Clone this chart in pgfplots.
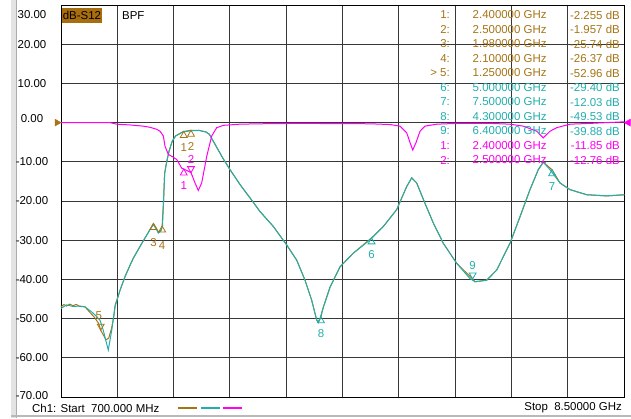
\documentclass[border=0pt]{standalone}
\usepackage{fontspec}
\setmainfont{Liberation Sans}
\usepackage{pgfplots}
\pgfplotsset{compat=1.18}
\definecolor{trbrown}{RGB}{166,116,20}
\definecolor{trteal}{RGB}{34,174,172}
\definecolor{trmag}{RGB}{255,0,240}
\definecolor{gridc}{RGB}{55,55,55}
\definecolor{tagbg}{RGB}{168,110,14}
\newcommand{\fs}{\fontsize{11.5}{13}\selectfont}
% one row of the marker table: y, colour, index, frequency, value
\newcommand{\mrow}[5]{%
  \node[anchor=east, inner sep=0pt, text=#2] at (450,#1) {#3};
  \node[anchor=west, inner sep=0pt, text=#2] at (472.5,#1) {#4};
  \node[anchor=east, inner sep=0pt, text=#2] at (620,#1) {#5};}

\begin{document}
\fs
\begin{tikzpicture}[x=1bp, y=1bp]
\useasboundingbox (0,0) rectangle (631,418);
% window edge
\fill[gray!22] (11,0) rectangle (17,418);
\draw[gray!65, line width=1bp] (16.5,0) -- (16.5,418);
\draw[gray!55, line width=1.5bp] (11,2) -- (631,2);

\begin{axis}[
  at={(61bp,21bp)}, anchor=south west,
  width=563.3bp, height=392bp, scale only axis,
  xmin=0.7, xmax=8.5, ymin=-70, ymax=30,
  xtick={1.48,2.26,3.04,3.82,4.6,5.38,6.16,6.94,7.72},
  xticklabels={},
  ytick={-70,-60,-50,-40,-30,-20,-10,0,10,20,30},
  yticklabels={{\raisebox{4bp}{-70.00}},-60.00,-50.00,-40.00,-30.00,-20.00,-10.00,
    {\raisebox{8bp}{0.00}},10.00,20.00,{\raisebox{-13bp}[0pt][0pt]{30.00}}},
  yticklabel style={anchor=center, xshift=-29bp, inner sep=0pt, font=\fs},
  major tick length=0pt,
  grid=major,
  grid style={gridc, line width=1bp},
  axis line style={black, line width=1bp},
  clip=false,
  legend style={at={(0.206,-0.028)}, anchor=west, draw=none, fill=none,
    legend columns=-1, inner sep=0pt, column sep=0pt,
    nodes={inner sep=0pt}},
  legend image code/.code={\draw[#1, line width=2.2bp] (0,0) -- (19bp,0);},
]

% S12 trace (brown)
\addplot[trbrown, line width=1bp] coordinates {
(0.700,-47.0) (0.740,-46.4) (0.779,-46.8) (0.820,-46.3) (0.866,-46.7) (0.910,-46.4)
(0.963,-46.9) (1.032,-47.0) (1.100,-48.4) (1.160,-49.6) (1.220,-51.2) (1.250,-52.96)
(1.290,-54.3) (1.323,-55.4) (1.360,-55.0) (1.400,-52.5) (1.430,-49.6) (1.450,-46.5)
(1.517,-42.8) (1.586,-39.3) (1.650,-36.6) (1.701,-34.6) (1.794,-31.6) (1.887,-28.7)
(1.980,-25.74) (2.015,-26.8) (2.047,-27.9) (2.085,-27.4) (2.100,-26.37) (2.120,-20.0)
(2.135,-13.0) (2.160,-10.3) (2.196,-7.3) (2.241,-4.7) (2.287,-3.4) (2.400,-2.255)
(2.500,-1.957) (2.615,-2.0) (2.708,-2.4) (2.755,-3.0) (2.847,-6.0) (2.939,-9.0)
(3.040,-12.0) (3.179,-15.8) (3.317,-19.2) (3.456,-22.7) (3.640,-26.5) (3.825,-31.2)
(3.964,-35.1) (4.079,-40.2) (4.171,-45.3) (4.241,-50.4) (4.263,-51.0) (4.300,-49.53)
(4.332,-47.1) (4.425,-42.0) (4.563,-36.8) (4.748,-33.3) (5.000,-29.4) (5.163,-26.5)
(5.348,-22.2) (5.487,-16.3) (5.556,-14.1) (5.625,-15.4) (5.740,-20.6) (5.855,-25.6)
(5.994,-30.8) (6.179,-35.9) (6.400,-39.88) (6.433,-40.6) (6.595,-40.2) (6.733,-37.6)
(6.917,-30.8) (7.056,-24.0) (7.194,-17.1) (7.309,-12.0) (7.378,-10.1) (7.500,-12.03)
(7.610,-15.4) (7.748,-17.1) (7.979,-18.4) (8.256,-18.7) (8.500,-18.4)
};
\addlegendentry{}
% teal trace
\addplot[trteal, line width=1bp] coordinates {
(0.700,-47.4) (0.779,-46.5) (0.866,-46.9) (0.963,-46.8) (1.032,-47.0) (1.125,-48.3)
(1.185,-49.3) (1.240,-50.4) (1.286,-53.0) (1.323,-55.8) (1.355,-58.0) (1.402,-53.0)
(1.448,-47.0) (1.517,-42.8) (1.586,-39.3) (1.701,-34.6) (1.794,-31.6) (1.887,-28.7)
(1.978,-26.0) (2.015,-27.0) (2.047,-28.2) (2.085,-27.6) (2.105,-26.5) (2.120,-20.0)
(2.135,-13.0) (2.160,-10.3) (2.196,-7.3) (2.241,-4.7) (2.287,-3.4) (2.380,-2.4)
(2.490,-2.1) (2.615,-2.0) (2.708,-2.4) (2.755,-3.0) (2.847,-6.0) (2.939,-9.0)
(3.040,-12.0) (3.179,-15.8) (3.317,-19.2) (3.456,-22.7) (3.640,-26.5) (3.825,-31.2)
(3.964,-35.1) (4.079,-40.2) (4.171,-45.3) (4.241,-50.4) (4.263,-51.0) (4.286,-50.0)
(4.332,-47.1) (4.425,-42.0) (4.563,-36.8) (4.748,-33.3) (4.979,-29.9) (5.163,-26.5)
(5.348,-22.2) (5.487,-16.3) (5.556,-14.1) (5.625,-15.4) (5.740,-20.6) (5.855,-25.6)
(5.994,-30.8) (6.179,-35.9) (6.363,-39.8) (6.433,-40.6) (6.595,-40.2) (6.733,-37.6)
(6.917,-30.8) (7.056,-24.0) (7.194,-17.1) (7.309,-12.0) (7.378,-10.1) (7.471,-12.0)
(7.610,-15.4) (7.748,-17.1) (7.979,-18.4) (8.256,-18.7) (8.500,-18.4)
};
\addlegendentry{}
% magenta trace
\addplot[trmag, line width=1bp] coordinates {
(0.700,0.0) (1.379,0.0) (1.471,-0.4) (1.655,-0.6) (1.840,-0.9) (1.932,-1.2)
(2.025,-1.7) (2.071,-2.2) (2.117,-3.4) (2.140,-6.0) (2.186,-8.1) (2.233,-8.6)
(2.302,-9.4) (2.371,-11.6) (2.400,-11.85) (2.500,-12.76) (2.556,-15.4) (2.601,-17.3)
(2.648,-15.4) (2.718,-8.6) (2.787,-3.4) (2.856,-1.3) (2.947,-0.7) (3.179,-0.4)
(3.456,-0.3) (4.009,-0.2) (4.979,-0.3) (5.256,-0.5) (5.394,-0.9) (5.487,-2.6)
(5.533,-5.1) (5.570,-7.0) (5.616,-5.1) (5.671,-2.2) (5.740,-0.9) (5.902,-0.4)
(6.179,-0.2) (6.640,-0.2) (6.917,-0.4) (7.101,-0.9) (7.287,-2.2) (7.378,-3.9)
(7.471,-2.2) (7.564,-1.3) (7.748,-0.4) (8.025,-0.2) (8.500,0.2)
};
\addlegendentry{}

% markers, triangle below the point
\addplot[only marks, trbrown, mark=triangle, mark size=4bp,
  mark options={yshift=-4bp, line width=0.8bp},
  point meta=explicit symbolic, nodes near coords,
  every node near coord/.append style={anchor=north, yshift=-8bp, inner sep=0pt, text=trbrown, font=\fs}]
  coordinates {(2.4,-2.255)[1] (2.5,-1.957)[2]};
\addplot[only marks, trbrown, mark=triangle, mark size=4bp,
  mark options={yshift=-4bp, line width=0.8bp},
  point meta=explicit symbolic, nodes near coords,
  every node near coord/.append style={anchor=north, yshift=-11bp, inner sep=0pt, text=trbrown, font=\fs}]
  coordinates {(1.98,-25.74)[3] (2.1,-26.37)[4]};
\addplot[only marks, trteal, mark=triangle, mark size=4bp,
  mark options={yshift=-4bp, line width=0.8bp},
  point meta=explicit symbolic, nodes near coords,
  every node near coord/.append style={anchor=north, yshift=-8bp, inner sep=0pt, text=trteal, font=\fs}]
  coordinates {(5.0,-29.40)[6] (7.5,-12.03)[7] (4.3,-49.53)[8]};
\addplot[only marks, trmag, mark=triangle, mark size=4bp,
  mark options={yshift=-4bp, line width=0.8bp},
  point meta=explicit symbolic, nodes near coords,
  every node near coord/.append style={anchor=north, yshift=-8bp, inner sep=0pt, text=trmag, font=\fs}]
  coordinates {(2.4,-11.85)[1]};
% markers, triangle above the point
\addplot[only marks, trbrown, mark=triangle, mark size=4bp,
  mark options={yshift=4bp, rotate=180, line width=0.8bp},
  point meta=explicit symbolic, nodes near coords,
  every node near coord/.append style={anchor=south, yshift=6bp, xshift=-2bp, inner sep=0pt, text=trbrown, font=\fs}]
  coordinates {(1.25,-52.96)[5]};
\addplot[only marks, trteal, mark=triangle, mark size=4bp,
  mark options={yshift=4bp, rotate=180, line width=0.8bp},
  point meta=explicit symbolic, nodes near coords,
  every node near coord/.append style={anchor=south, yshift=5bp, inner sep=0pt, text=trteal, font=\fs}]
  coordinates {(6.4,-39.88)[9]};
\addplot[only marks, trmag, mark=triangle, mark size=4bp,
  mark options={yshift=4bp, rotate=180, line width=0.8bp},
  point meta=explicit symbolic, nodes near coords,
  every node near coord/.append style={anchor=south, yshift=5bp, inner sep=0pt, text=trmag, font=\fs}]
  coordinates {(2.5,-12.76)[2]};

% reference level arrows
\addplot[only marks, trbrown, mark=triangle*, mark size=4bp,
  mark options={xshift=-4bp, rotate=-90}] coordinates {(0.7,0)};
\addplot[only marks, trmag, mark=triangle*, mark size=4bp,
  mark options={xshift=4bp, rotate=90}] coordinates {(8.5,0)};
\end{axis}

% labels inside the grid
\node[anchor=west, fill=tagbg, inner sep=0.6bp, minimum height=15bp] at (62,402.5) {dB-S12};
\node[anchor=west, inner sep=0pt] at (122,402) {BPF};
% marker table
\mrow{403}{trbrown}{1:}{2.400000 GHz}{-2.255 dB}
\mrow{388.5}{trbrown}{2:}{2.500000 GHz}{-1.957 dB}
\mrow{374}{trbrown}{3:}{1.980000 GHz}{-25.74 dB}
\mrow{359.5}{trbrown}{4:}{2.100000 GHz}{-26.37 dB}
\mrow{345}{trbrown}{> 5:}{1.250000 GHz}{-52.96 dB}
\mrow{330.5}{trteal}{6:}{5.000000 GHz}{-29.40 dB}
\mrow{316}{trteal}{7:}{7.500000 GHz}{-12.03 dB}
\mrow{301.5}{trteal}{8:}{4.300000 GHz}{-49.53 dB}
\mrow{287}{trteal}{9:}{6.400000 GHz}{-39.88 dB}
\mrow{272.5}{trmag}{1:}{2.400000 GHz}{-11.85 dB}
\mrow{258}{trmag}{2:}{2.500000 GHz}{-12.76 dB}
% footer
\node[anchor=west, inner sep=0pt] at (32,10) {Ch1: Start\ \ 700.000 MHz};
\node[anchor=east, inner sep=0pt] at (622,10) {Stop\ \ 8.50000 GHz};
\end{tikzpicture}
\end{document}
